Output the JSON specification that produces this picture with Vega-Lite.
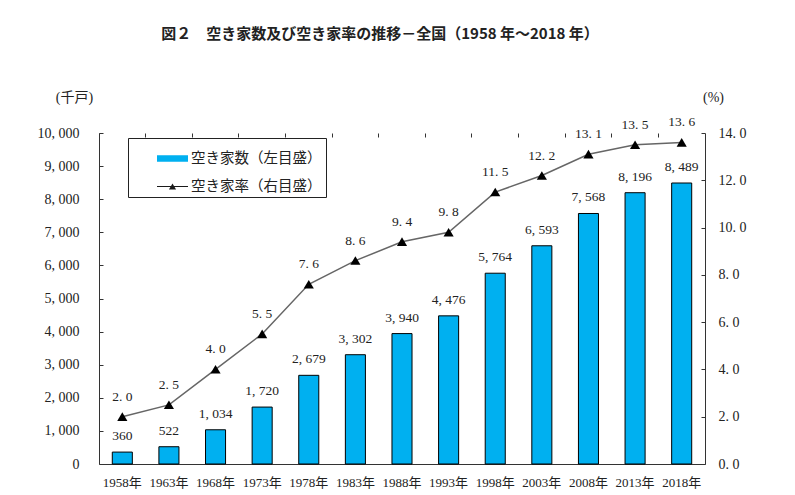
{
  "$schema": "https://vega.github.io/schema/vega-lite/v6.json",
  "width": 606,
  "height": 331,
  "autosize": {"type": "none"},
  "padding": {"left": 99, "top": 133, "right": 90, "bottom": 31},
  "background": "white",
  "title": {
    "text": "図２　空き家数及び空き家率の推移－全国（1958 年～2018 年）",
    "font": "Noto Sans CJK JP",
    "fontSize": 15,
    "fontWeight": "bold",
    "color": "#222",
    "anchor": "middle",
    "dx": -22,
    "offset": 48
  },
  "config": {
    "view": {"stroke": null},
    "font": "Liberation Serif, Noto Sans CJK JP",
    "axis": {"grid": false, "domainColor": "#333", "tickColor": "#333", "labelColor": "#222", "titleColor": "#222"},
    "legend": {
      "orient": "none", "legendX": 29, "legendY": 5,
      "fillColor": "white", "strokeColor": "#222",
      "padding": 4,
      "symbolOffset": 24,
      "symbolSize": 961,
      "symbolOpacity": 1,
      "labelFont": "Noto Sans CJK JP",
      "labelFontSize": 14.5,
      "labelColor": "#222",
      "labelOffset": 2,
      "rowPadding": 5
    }
  },
  "data": {
    "values": [
      {"year": "1958年", "count": 360, "rate": 2.0},
      {"year": "1963年", "count": 522, "rate": 2.5},
      {"year": "1968年", "count": 1034, "rate": 4.0},
      {"year": "1973年", "count": 1720, "rate": 5.5},
      {"year": "1978年", "count": 2679, "rate": 7.6},
      {"year": "1983年", "count": 3302, "rate": 8.6},
      {"year": "1988年", "count": 3940, "rate": 9.4},
      {"year": "1993年", "count": 4476, "rate": 9.8},
      {"year": "1998年", "count": 5764, "rate": 11.5},
      {"year": "2003年", "count": 6593, "rate": 12.2},
      {"year": "2008年", "count": 7568, "rate": 13.1},
      {"year": "2013年", "count": 8196, "rate": 13.5},
      {"year": "2018年", "count": 8489, "rate": 13.6}
    ]
  },
  "transform": [
    {"calculate": "replace(format(datum.count, ','), ',', ', ')", "as": "countLabel"},
    {"calculate": "replace(format(datum.rate, '.1f'), '.', '. ')", "as": "rateLabel"}
  ],
  "resolve": {"scale": {"y": "independent"}, "axis": {"x": "independent"}},
  "layer": [
    {
      "encoding": {
        "x": {
          "field": "year", "type": "ordinal", "sort": null,
          "scale": {"paddingInner": 0, "paddingOuter": 0},
          "axis": {"title": null, "ticks": false, "domain": true, "labelAngle": 0, "labelFontSize": 13, "labelPadding": 12, "labelFont": "Liberation Serif, Noto Sans CJK JP"}
        },
        "y": {
          "field": "count", "type": "quantitative",
          "scale": {"domain": [0, 10000]},
          "axis": {
            "orient": "left",
            "values": [0, 1000, 2000, 3000, 4000, 5000, 6000, 7000, 8000, 9000, 10000],
            "title": "(千戸)", "titleAngle": 0, "titleX": -25, "titleY": -36,
            "titleAlign": "center", "titleBaseline": "middle",
            "titleFont": "Liberation Serif, Noto Sans CJK JP", "titleFontSize": 14, "titleFontWeight": "normal",
            "labelExpr": "replace(format(datum.value, ','), ',', ', ')",
            "tickSize": -4, "labelPadding": 24, "labelFontSize": 14
          }
        }
      },
      "layer": [
        {
          "mark": {"type": "bar", "width": {"band": 0.43}, "stroke": "#000", "strokeWidth": 1, "fill": "#00B0F0"}
        },
        {
          "mark": {"type": "text", "dy": -16, "fontSize": 13.5, "color": "#222", "baseline": "middle"},
          "encoding": {"text": {"field": "countLabel"}}
        }
      ]
    },
    {
      "encoding": {
        "x": {
          "field": "year", "type": "ordinal", "sort": null,
          "axis": {"title": null, "labels": false, "domain": false, "ticks": true, "tickSize": -4, "bandPosition": 0}
        },
        "y": {
          "field": "rate", "type": "quantitative",
          "scale": {"domain": [0, 14]},
          "axis": {
            "orient": "right",
            "values": [0, 2, 4, 6, 8, 10, 12, 14],
            "title": "(%)", "titleAngle": 0, "titleX": 8, "titleY": -36,
            "titleAlign": "center", "titleBaseline": "middle",
            "titleFont": "Liberation Serif, Noto Sans CJK JP", "titleFontSize": 14, "titleFontWeight": "normal",
            "labelExpr": "replace(format(datum.value, '.1f'), '.', '. ')",
            "tickSize": -4, "labelPadding": 17, "labelFontSize": 14
          }
        }
      },
      "layer": [
        {"mark": {"type": "line", "color": "#666", "strokeWidth": 1.5}},
        {
          "mark": {"type": "point", "shape": "M-0.23,0.19L0,-0.2L0.23,0.19Z", "size": 1950, "filled": true, "fill": "#000", "opacity": 1}
        },
        {
          "mark": {"type": "point", "size": 1950, "filled": true, "opacity": 0},
          "encoding": {
            "fill": {
              "datum": "空き家率（右目盛）",
              "scale": {"domain": ["空き家数（左目盛）", "空き家率（右目盛）"], "range": ["#00B0F0", "#1a1a1a"]},
              "legend": {"title": null}
            },
            "shape": {
              "datum": "空き家率（右目盛）",
              "scale": {"domain": ["空き家数（左目盛）", "空き家率（右目盛）"], "range": ["M-1,-0.21H1V0.21H-1Z", "M-1,-0.04H1V0.04H-1Z M-0.23,0.19L0,-0.2L0.23,0.19Z"]},
              "legend": {"title": null}
            }
          }
        },
        {
          "mark": {"type": "text", "dy": -20, "fontSize": 13.5, "color": "#222", "baseline": "middle"},
          "encoding": {"text": {"field": "rateLabel"}}
        }
      ]
    }
  ]
}
